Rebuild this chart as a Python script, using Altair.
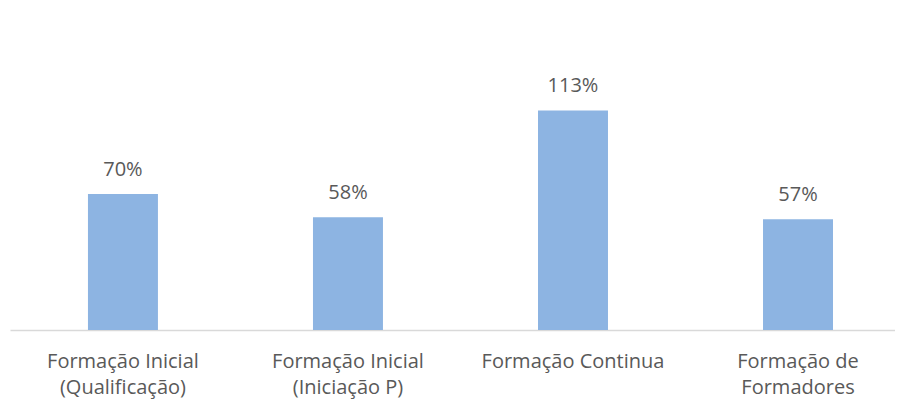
import altair as alt
import pandas as pd

categories = ["Formação Inicial|(Qualificação)", "Formação Inicial|(Iniciação P)",
              "Formação Continua", "Formação de|Formadores"]
values = [70, 58, 113, 57]
labels = ["70%", "58%", "113%", "57%"]

df = pd.DataFrame({"cat": categories, "val": values, "lab": labels})

FONT = "Open Sans"
TXT = "#595959"

x = alt.X("cat:N", sort=categories, title=None,
          scale=alt.Scale(paddingInner=0.689, paddingOuter=0.311, align=0.557),
          axis=alt.Axis(labelAngle=0, labelExpr="split(datum.label, '|')",
                        labelFont=FONT, labelFontSize=20, labelColor=TXT,
                        labelLineHeight=26, labelPadding=21, ticks=False,
                        domainColor="#D9D9D9", domainWidth=1.5, labelLimit=300))
y = alt.Y("val:Q", scale=alt.Scale(domain=[0, 140]), axis=None)

bars = alt.Chart(df).mark_bar(color="#8DB4E2").encode(x=x, y=y)
text = alt.Chart(df).mark_text(dy=-18, baseline="alphabetic", font=FONT,
                               fontSize=20, color=TXT).encode(x=x, y=y, text="lab:N")

chart = (bars + text).properties(
    width=885, height=272,
    autosize=alt.AutoSizeParams(type="none"),
    padding={"left": 2, "top": 50, "right": 0, "bottom": 72},
).configure_view(stroke=None)

chart.save("out.html", embed_options={"renderer": "svg", "actions": False})
